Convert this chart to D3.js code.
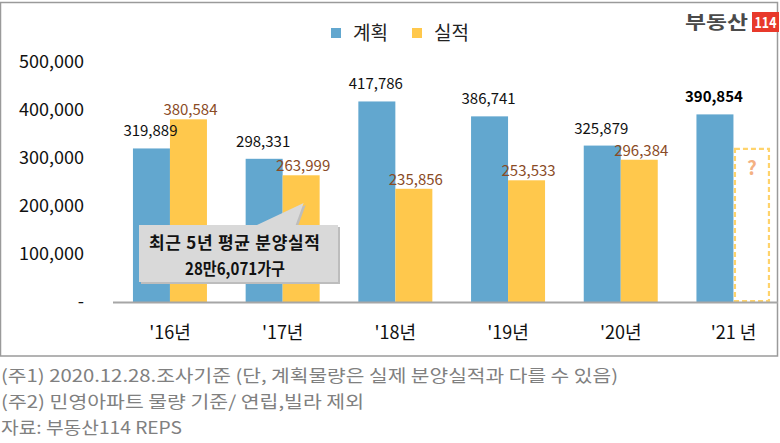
<!DOCTYPE html>
<html><head><meta charset="utf-8">
<script src="https://cdn.jsdelivr.net/npm/d3@7"></script>
<style>
html,body{margin:0;padding:0;background:#fff;}
svg{display:block;}
text{font-family:"Noto Sans CJK KR","Noto Sans",sans-serif;}
</style></head>
<body><svg id="chart" width="780" height="443"></svg>
<script>
const categories = ["'16년","'17년","'18년","'19년","'20년","'21 년"];
const seriesNames = ["계획","실적"];
const planValues = [319889, 298331, 417786, 386741, 325879, 390854];
const actualValues = [380584, 263999, 235856, 253533, 296384, null];
const placeholderValue = 319000; // dashed '21 실적 placeholder (estimated)
const yTicks = [0, 100000, 200000, 300000, 400000, 500000];
const tickLabels = ["-", "100,000", "200,000", "300,000", "400,000", "500,000"];
const calloutLines = ["최근 5년 평균 분양실적", "28만6,071가구"];
const footnotes = ["(주1) 2020.12.28.조사기준 (단, 계획물량은 실제 분양실적과 다를 수 있음)",
                   "(주2) 민영아파트 물량 기준/ 연립,빌라 제외",
                   "자료: 부동산114 REPS"];

const colors = {"계획":"#62a7cf","실적":"#ffc84c"};
const labelColors = {"계획":"#111","실적":"#8a4b26"};
const labelGap = {"계획":12,"실적":4};

const svg = d3.select("#chart");

// frame
svg.append("rect").attr("x",0.5).attr("y",2.5).attr("width",777).attr("height",353.5)
  .attr("fill","none").attr("stroke","#9a9a9a").attr("stroke-width",1.5);

const x = d3.scaleBand().domain(categories).range([113.6, 789.8]).padding(0);
const step = x.step();
const x1 = d3.scaleBand().domain(seriesNames).range([step/2 - 37, step/2 + 37]);
const y = d3.scaleLinear().domain([0, 500000]).range([302, 62]);

// y tick labels
const yAxis = d3.axisLeft(y).tickValues(yTicks).tickSize(0)
  .tickFormat((d,i)=>tickLabels[i]);
const gy = svg.append("g").attr("transform","translate(87,0)").call(yAxis);
gy.select(".domain").remove();
gy.selectAll("text").attr("font-family","'Noto Sans',sans-serif").attr("font-size",18)
  .attr("fill","#111").attr("dx",0);

const data = categories.map((c,i)=>({cat:c, vals:[
  {s:"계획", v:planValues[i], bold: i===5},
  {s:"실적", v:actualValues[i]}
]}));

const groups = svg.append("g").selectAll("g").data(data).join("g")
  .attr("transform", d=>`translate(${x(d.cat)},0)`);

groups.selectAll("rect.bar").data(d=>d.vals.filter(v=>v.v!=null)).join("rect")
  .attr("class","bar")
  .attr("x", d=>x1(d.s)).attr("width", x1.bandwidth())
  .attr("y", d=>y(d.v)).attr("height", d=>y(0)-y(d.v))
  .attr("fill", d=>colors[d.s]);

groups.selectAll("text.val").data(d=>d.vals.filter(v=>v.v!=null)).join("text")
  .attr("class","val")
  .attr("x", d=>x1(d.s)+x1.bandwidth()/2 + (d.s==="실적"?2:-1)).attr("y", d=>y(d.v)-labelGap[d.s])
  .attr("text-anchor","middle")
  .attr("font-family","'Noto Sans',sans-serif")
  .attr("font-size",15)
  .attr("font-weight", d=>d.bold?"bold":"normal")
  .attr("fill", d=>d.bold?"#000":labelColors[d.s])
  .text(d=>d3.format(",")(d.v));

// dashed placeholder for '21 실적
const lastCat = categories[5];
svg.append("rect")
  .attr("x", x(lastCat)+x1("실적")+1.5).attr("width", x1.bandwidth()-3)
  .attr("y", y(placeholderValue)).attr("height", y(0)-y(placeholderValue)-1)
  .attr("fill","none").attr("stroke","#ffd36b").attr("stroke-width",2.2)
  .attr("stroke-dasharray","5,3");
svg.append("text")
  .attr("x", x(lastCat)+x1("실적")+x1.bandwidth()/2).attr("y", y(placeholderValue)+26)
  .attr("text-anchor","middle").attr("font-family","'Noto Sans',sans-serif")
  .attr("font-weight","bold").attr("font-size",19).attr("fill","#f4b183").text("?");

// baseline
svg.append("line").attr("x1",113).attr("x2",778).attr("y1",y(0)+0.5).attr("y2",y(0)+0.5)
  .attr("stroke","#a6a6a6").attr("stroke-width",2);

// x axis labels
const xAxis = d3.axisBottom(x).tickSize(0);
const gx = svg.append("g").attr("transform",`translate(0,${y(0)})`).call(xAxis);
gx.select(".domain").remove();
gx.selectAll("text").attr("font-size",18).attr("fill","#111").attr("dy",0).attr("y",37);

// legend
const legend = svg.append("g");
const legX = [331, 412];
seriesNames.forEach((s,i)=>{
  legend.append("rect").attr("x",legX[i]).attr("y",28).attr("width",10).attr("height",10).attr("fill",colors[s]);
  legend.append("text").attr("x",legX[i]+22).attr("y",40).attr("font-size",19).attr("fill","#222").text(s);
});

// callout
const box = {x0:139, x1:338, y0:225, y1:282};
const tip = {x: x(categories[1]) + x1("실적") + 21, y: 203};
const calloutPath = `M${box.x0},${box.y0}L257,${box.y0}L${tip.x},${tip.y}L${tip.x-8},${box.y0}L${box.x1},${box.y0}L${box.x1},${box.y1}L${box.x0},${box.y1}Z`;
svg.append("path").attr("d", calloutPath).attr("fill","#bdbdbd").attr("transform","translate(2,2)");
svg.append("path").attr("d", calloutPath).attr("fill","#d9d9d9");
svg.append("text").attr("x",149).attr("y",249)
  .attr("font-size",17).attr("font-weight","bold").attr("fill","#111")
  .attr("textLength",171).attr("lengthAdjust","spacing").text(calloutLines[0]);
svg.append("text").attr("x",185).attr("y",275)
  .attr("font-size",17).attr("font-weight","bold").attr("fill","#111")
  .attr("textLength",100).attr("lengthAdjust","spacingAndGlyphs").text(calloutLines[1]);

// logo
svg.append("text").attr("x",685).attr("y",29)
  .attr("font-size",18).attr("font-weight","bold").attr("fill","#4a4a4a")
  .attr("textLength",63).attr("lengthAdjust","spacingAndGlyphs").text("부동산");
svg.append("rect").attr("x",752).attr("y",12).attr("width",27).attr("height",20).attr("fill","#e8392b");
svg.append("text").attr("x",765.5).attr("y",28).attr("text-anchor","middle")
  .attr("font-family","'Noto Sans',sans-serif").attr("font-size",15).attr("font-weight","bold")
  .attr("fill","#fff").attr("textLength",22).attr("lengthAdjust","spacingAndGlyphs").text("114");

// footnotes
const fnY = [382, 408, 434];
const fnW = [617, 363, 181];
footnotes.forEach((t,i)=>{
  svg.append("text").attr("x",1).attr("y",fnY[i]).attr("font-size",17).attr("fill","#808080")
    .attr("textLength",fnW[i]).attr("lengthAdjust","spacingAndGlyphs").text(t);
});
</script></body></html>
